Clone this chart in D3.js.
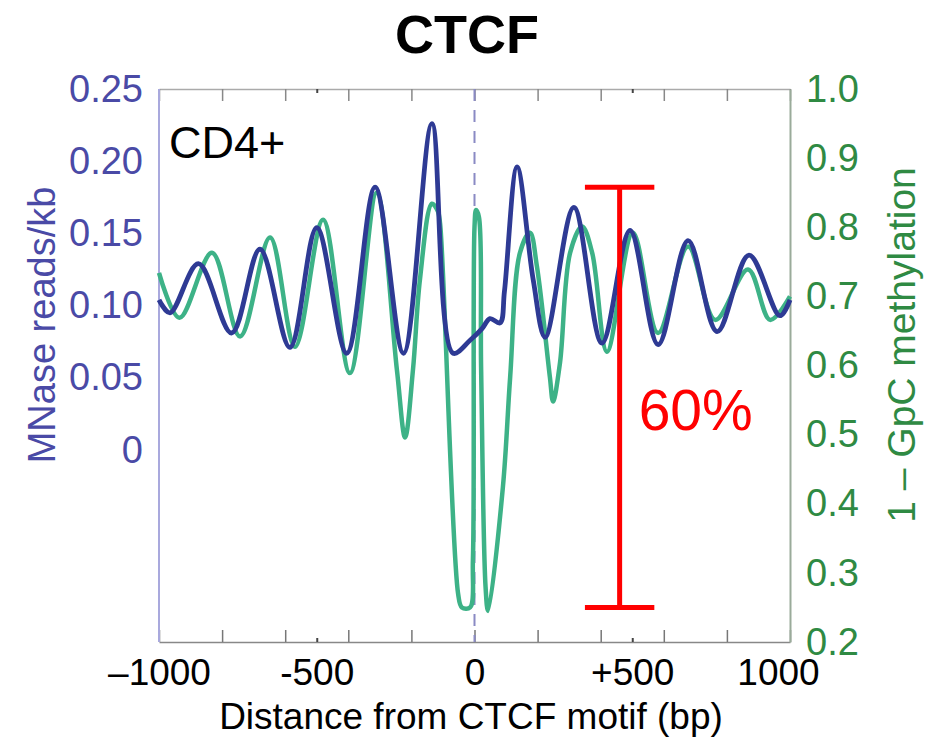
<!DOCTYPE html>
<html>
<head>
<meta charset="utf-8">
<script src="https://cdn.jsdelivr.net/npm/d3@7"></script>
<style>
  html, body { margin: 0; padding: 0; background: #fff; }
  svg { display: block; font-family: "Liberation Sans", Arial, Helvetica, sans-serif; }
</style>
</head>
<body>
<svg id="chart" width="930" height="738"></svg>
<script>
// ---------------- data ----------------
const titleText = "CTCF";
const cellLabel = "CD4+";
const xTickValues = [-1000, -800, -600, -400, -200, 0, 200, 400, 600, 800, 1000];
const xMinorTicks = [-500, 500];
const xLabelValues = [-1000, -500, 0, 500, 1000];
const xLabelText = ["\u20131000", "-500", "0", "+500", "1000"];
const leftTickValues = [0, 0.05, 0.10, 0.15, 0.20, 0.25];
const leftTickText = ["0", "0.05", "0.10", "0.15", "0.20", "0.25"];
const rightTickValues = [0.2, 0.3, 0.4, 0.5, 0.6, 0.7, 0.8, 0.9, 1.0];
const rightTickText = ["0.2", "0.3", "0.4", "0.5", "0.6", "0.7", "0.8", "0.9", "1.0"];

// MNase reads/kb (left axis)
const mnaseBp = [-1000, -965, -875, -770, -680, -585, -500, -405, -315, -225, -135, -68, -14, 24, 49, 81, 95, 135, 186, 224, 315, 404, 493, 582, 677, 769, 870, 968, 1000];
const mnaseVal = [0.104, 0.095, 0.129, 0.081, 0.139, 0.071, 0.154, 0.067, 0.182, 0.067, 0.226, 0.067, 0.076, 0.084, 0.091, 0.088, 0.110, 0.196, 0.118, 0.078, 0.168, 0.074, 0.152, 0.073, 0.145, 0.082, 0.135, 0.093, 0.104];

// 1 - GpC methylation (right axis)
const methBp = [-1000, -935, -832, -743, -648, -569, -480, -395, -310, -246, -220, -195, -173, -135, -116, -109, -52, -40, -14, -5, 0, 5, 14, 21, 35, 43, 90, 113, 144, 176, 198, 239, 249, 271, 303, 341, 373, 420, 502, 582, 677, 763, 867, 937, 1000];
const methVal = [0.734, 0.669, 0.763, 0.642, 0.785, 0.627, 0.811, 0.589, 0.850, 0.594, 0.496, 0.594, 0.724, 0.834, 0.823, 0.805, 0.270, 0.250, 0.250, 0.320, 0.800, 0.825, 0.815, 0.594, 0.280, 0.245, 0.424, 0.583, 0.763, 0.792, 0.743, 0.583, 0.548, 0.604, 0.763, 0.801, 0.763, 0.620, 0.792, 0.647, 0.772, 0.666, 0.739, 0.666, 0.700];

// annotation: 60% bracket (bp position, right-axis low/high, half cap width in bp)
const bracketBp = [460];
const bracketRange = [0.25, 0.858];
const bracketCapHalf = [110];
const bracketLabel = "60%";

// ---------------- layout ----------------
const svg = d3.select("#chart");
const L = 159, R = 790, T = 89, B = 642;
const x = d3.scaleLinear().domain([-1000, 1000]).range([L, R]);
const yL = d3.scaleLinear().domain([-0.133, 0.25]).range([B, T]);
const yR = d3.scaleLinear().domain([0.2, 1.0]).range([B, T]);

const blueCol = "#2e3a94", greenCol = "#3db287";
const leftTextCol = "#4a4aa6", rightTextCol = "#2f8a43";

// title
svg.append("text").attr("x", 467).attr("y", 53).attr("text-anchor", "middle")
  .attr("font-size", 54).attr("font-weight", "bold").attr("fill", "#000").text(titleText);

// top and bottom tick marks (inward)
const topTicks = svg.append("g").attr("transform", `translate(0,${T})`)
  .call(d3.axisTop(x).tickValues(xTickValues).tickSize(-12).tickSizeOuter(0).tickFormat(""));
topTicks.select(".domain").attr("stroke", "#aaaaaa").attr("stroke-width", 1.5);
topTicks.selectAll(".tick line").attr("stroke", "#888").attr("stroke-width", 1.5);

const botTicks = svg.append("g").attr("transform", `translate(0,${B})`)
  .call(d3.axisBottom(x).tickValues(xTickValues).tickSize(-12).tickSizeOuter(0).tickFormat(""));
botTicks.select(".domain").attr("stroke", "#888").attr("stroke-width", 1.5);
botTicks.selectAll(".tick line").attr("stroke", "#777").attr("stroke-width", 1.5);

// minor dots at +/-500
[T, B].forEach((yy, i) => {
  svg.append("g").attr("transform", `translate(0,${yy})`)
    .call((i === 0 ? d3.axisTop(x) : d3.axisBottom(x)).tickValues(xMinorTicks).tickSize(-4).tickSizeOuter(0).tickFormat(""))
    .call(g => g.select(".domain").remove())
    .selectAll(".tick line").attr("stroke", "#444").attr("stroke-width", 2);
});

// bottom labels
const botLabels = svg.append("g").attr("transform", `translate(0,${B})`)
  .call(d3.axisBottom(x).tickValues(xLabelValues).tickSize(0).tickPadding(17)
    .tickFormat((d, i) => xLabelText[i]));
botLabels.select(".domain").remove();
botLabels.selectAll("text").attr("font-size", 37).attr("fill", "#000").attr("font-family", "Liberation Sans, Arial, sans-serif");
botLabels.selectAll(".tick").filter(d => d === 1000).select("text").attr("dx", -12);

svg.append("text").attr("x", 471).attr("y", 729).attr("text-anchor", "middle")
  .attr("font-size", 37).attr("fill", "#000").text("Distance from CTCF motif (bp)");

// left axis
const leftAx = svg.append("g").attr("transform", `translate(${L},0)`)
  .call(d3.axisLeft(yL).tickValues(leftTickValues).tickSize(0).tickPadding(16).tickSizeOuter(0)
    .tickFormat((d, i) => leftTickText[i]));
leftAx.select(".domain").attr("d", `M0,${T}V${B}`).attr("stroke", "#a9a9dd").attr("stroke-width", 2);
leftAx.selectAll("text").attr("font-size", 38).attr("fill", leftTextCol).attr("font-family", "Liberation Sans, Arial, sans-serif");

svg.append("text").attr("transform", "translate(55,325) rotate(-90)").attr("text-anchor", "middle")
  .attr("font-size", 38).attr("fill", leftTextCol).text("MNase reads/kb");

// right axis
const rightAx = svg.append("g").attr("transform", `translate(${R},0)`)
  .call(d3.axisRight(yR).tickValues(rightTickValues).tickSize(0).tickPadding(16).tickSizeOuter(0)
    .tickFormat((d, i) => rightTickText[i]));
rightAx.select(".domain").attr("stroke", "#9aab9a").attr("stroke-width", 2);
rightAx.selectAll("text").attr("font-size", 38).attr("fill", rightTextCol).attr("font-family", "Liberation Sans, Arial, sans-serif");

svg.append("text").attr("transform", "translate(915,345) rotate(-90)").attr("text-anchor", "middle")
  .attr("font-size", 39).attr("fill", rightTextCol).text("1 \u2013 GpC methylation");

// dashed zero line
svg.append("line").attr("x1", x(0)).attr("x2", x(0)).attr("y1", T).attr("y2", B)
  .attr("stroke", "#8a8ac4").attr("stroke-width", 2).attr("stroke-dasharray", "12,9");

// cell label
svg.append("text").attr("x", 169).attr("y", 158).attr("font-size", 45).attr("fill", "#000").text(cellLabel);

// series
const methData = methBp.map((b, i) => [b, methVal[i]]);
const mnaseData = mnaseBp.map((b, i) => [b, mnaseVal[i]]);

svg.append("path").datum(methData)
  .attr("d", d3.line().x(d => x(d[0])).y(d => yR(d[1])).curve(d3.curveCatmullRom.alpha(0.5)))
  .attr("fill", "none").attr("stroke", greenCol).attr("stroke-width", 4.5).attr("stroke-linejoin", "round");

svg.append("path").datum(mnaseData)
  .attr("d", d3.line().x(d => x(d[0])).y(d => yL(d[1])).curve(d3.curveCatmullRom.alpha(0.5)))
  .attr("fill", "none").attr("stroke", blueCol).attr("stroke-width", 4.8).attr("stroke-linejoin", "round");

// 60% bracket
const bx = x(bracketBp[0]);
const capL = x(bracketBp[0] - bracketCapHalf[0]), capR = x(bracketBp[0] + bracketCapHalf[0]);
const red = "#ff0000";
svg.append("line").attr("x1", bx).attr("x2", bx).attr("y1", yR(bracketRange[1])).attr("y2", yR(bracketRange[0]))
  .attr("stroke", red).attr("stroke-width", 5);
bracketRange.forEach(v => {
  svg.append("line").attr("x1", capL).attr("x2", capR).attr("y1", yR(v)).attr("y2", yR(v))
    .attr("stroke", red).attr("stroke-width", 5);
});
svg.append("text").attr("x", bx + 19).attr("y", 430).attr("font-size", 57).attr("fill", red).text(bracketLabel);
</script>
</body>
</html>
